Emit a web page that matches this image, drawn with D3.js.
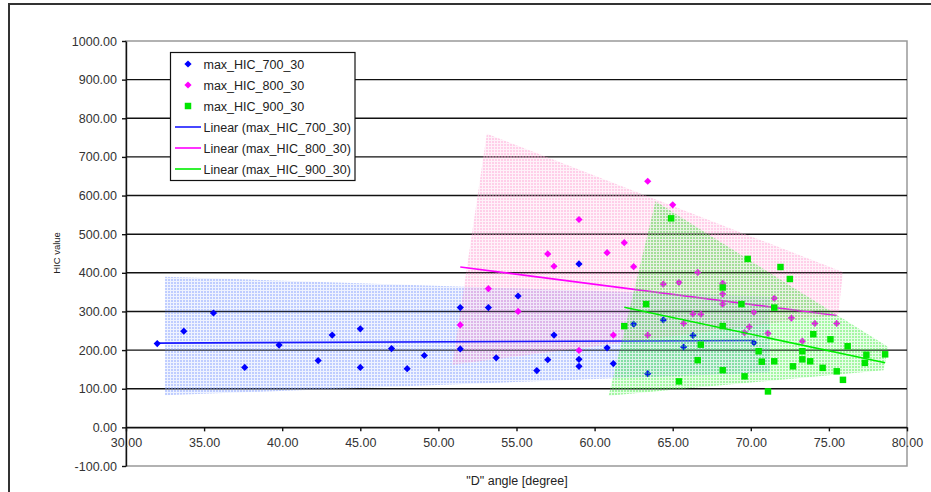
<!DOCTYPE html>
<html>
<head>
<meta charset="utf-8">
<script src="https://cdn.jsdelivr.net/npm/d3@7"></script>
<style>
  body { margin: 0; background: #fff; }
  text { font-family: "Liberation Sans", Arial, sans-serif; }
</style>
</head>
<body>
<script>
// D angle (x) and HIC value (y) per series
const angle700 = [32.0, 33.7, 35.6, 37.6, 39.8, 42.3, 43.2, 45.0, 45.0, 47.0, 48.0, 49.1, 51.4, 51.4, 53.2, 53.7,
  55.1, 56.3, 57.0, 57.4, 59.0, 59.0, 59.0, 60.8, 61.2, 62.5, 63.4, 64.4, 65.7, 66.3, 70.2];
const hic700 = [217, 249, 296, 155, 213, 173, 239, 255, 155, 204, 152, 186, 310, 203, 310, 180,
  340, 147, 175, 239, 423, 176, 158, 206, 165, 267, 139, 278, 208, 238, 219];

const angle800 = [51.4, 53.2, 55.1, 57.0, 57.4, 59.0, 59.0, 60.8, 61.2, 61.9, 62.5, 63.4, 63.4, 64.4, 65.0, 65.4,
  65.7, 66.3, 66.6, 66.8, 68.2, 68.2, 68.2, 69.6, 69.9, 70.2, 71.1, 71.5, 72.6, 73.3, 74.1, 75.5];
const hic800 = [265, 359, 300, 449, 417, 538, 199, 452, 239, 478, 416, 637, 239, 371, 576, 375,
  269, 294, 401, 293, 373, 345, 319, 245, 260, 298, 243, 334, 283, 223, 269, 269];

const angle900 = [61.9, 63.3, 64.9, 65.4, 66.6, 66.8, 68.2, 68.2, 68.2, 69.4, 69.6, 69.8, 70.5, 70.7, 71.1, 71.5,
  71.5, 71.9, 72.5, 72.7, 73.3, 73.3, 73.8, 74.0, 74.6, 75.1, 75.5, 75.9, 76.2, 77.3, 77.4, 78.6];
const hic900 = [262, 319, 541, 119, 174, 214, 362, 262, 148, 319, 132, 436, 197, 170, 93, 310,
  171, 415, 384, 158, 197, 176, 171, 241, 154, 228, 145, 123, 210, 167, 188, 189];

// shaded spread areas, corners as [angle, value]
const band700 = [[32.5, 390], [71.2, 338], [71.2, 142], [32.5, 83]];
const band800 = [[53.1, 760], [75.9, 402], [75.6, 292], [50.9, 162]];
const band900 = [[63.9, 585], [78.8, 208], [78.5, 148], [60.9, 82]];

const xTicks = [30, 35, 40, 45, 50, 55, 60, 65, 70, 75, 80];
const yTicks = [-100, 0, 100, 200, 300, 400, 500, 600, 700, 800, 900, 1000];
const legendNames = ["max_HIC_700_30", "max_HIC_800_30", "max_HIC_900_30",
  "Linear (max_HIC_700_30)", "Linear (max_HIC_800_30)", "Linear (max_HIC_900_30)"];

const w = 931, h = 492;
const svg = d3.select("body").append("svg").attr("width", w).attr("height", h);

const x = d3.scaleLinear().domain([30, 80]).range([126, 907]);
const y = d3.scaleLinear().domain([-100, 1000]).range([466, 41]);

// outer chart frame
svg.append("rect").attr("x", 9).attr("y", 4).attr("width", 960).attr("height", 520)
  .attr("fill", "none").attr("stroke", "#333").attr("stroke-width", 2);

// plot area border
svg.append("rect").attr("x", x(30)).attr("y", y(1000))
  .attr("width", x(80) - x(30)).attr("height", y(-100) - y(1000))
  .attr("fill", "none").attr("stroke", "#999").attr("stroke-width", 1.5);

// gridlines
svg.append("g").selectAll("line")
  .data(yTicks.filter(d => d > -100 && d < 1000))
  .enter().append("line")
  .attr("x1", x(30)).attr("x2", x(80))
  .attr("y1", d => y(d)).attr("y2", d => y(d))
  .attr("stroke", "#111").attr("stroke-width", 1.4);

// hatch patterns
const defs = svg.append("defs");
function hatch(id, color, op) {
  const p = defs.append("pattern").attr("id", id)
    .attr("patternUnits", "userSpaceOnUse").attr("width", 3).attr("height", 3);
  p.append("rect").attr("width", 3).attr("height", 3).attr("fill", color).attr("opacity", op * 0.3);
  p.append("rect").attr("width", 2).attr("height", 2).attr("fill", color).attr("opacity", op);
}
hatch("h700", "#86a0ff", 0.45);
hatch("h800", "#ff9ad2", 0.4);
hatch("h900", "#44ee44", 0.42);

const poly = d3.line().x(d => x(d[0])).y(d => y(d[1]));

function fit(xs, ys) {
  const mx = d3.mean(xs), my = d3.mean(ys);
  let sxy = 0, sxx = 0;
  xs.forEach((v, i) => { sxy += (v - mx) * (ys[i] - my); sxx += (v - mx) * (v - mx); });
  const b = sxy / sxx;
  const x0 = d3.min(xs), x1 = d3.max(xs);
  return [[x0, my + b * (x0 - mx)], [x1, my + b * (x1 - mx)]];
}

function drawBand(band, id) {
  svg.append("path").attr("d", poly(band) + "Z").attr("fill", `url(#${id})`);
}
function drawTrend(xs, ys, color) {
  svg.append("path").attr("d", poly(fit(xs, ys)))
    .attr("stroke", color).attr("stroke-width", 1.6).attr("fill", "none");
}
// diamonds are squares turned 45 degrees
function drawPoints(xs, ys, color, rot, size) {
  svg.append("g").selectAll("path")
    .data(xs.map((v, i) => [v, ys[i]]))
    .enter().append("path")
    .attr("transform", d => `translate(${x(d[0])},${y(d[1])}) rotate(${rot})`)
    .attr("d", d3.symbol().type(d3.symbolSquare).size(size))
    .attr("fill", color);
}

drawBand(band700, "h700");
drawBand(band800, "h800");
drawTrend(angle700, hic700, "#1a1aff");
drawTrend(angle800, hic800, "#ff00ff");
drawPoints(angle700, hic700, "#0000ff", 45, 26);
drawPoints(angle800, hic800, "#ff00ff", 45, 26);
drawBand(band900, "h900");
drawTrend(angle900, hic900, "#00ee00");
drawPoints(angle900, hic900, "#00e600", 0, 42);

// axes
const fmt = d => d.toFixed(2);
const yAxis = svg.append("g").attr("transform", `translate(${x(30)},0)`)
  .call(d3.axisLeft(y).tickValues(yTicks).tickSize(4).tickSizeOuter(0).tickPadding(5).tickFormat(fmt));
const xAxis = svg.append("g").attr("transform", `translate(0,${y(0)})`)
  .call(d3.axisBottom(x).tickValues(xTicks).tickSize(4).tickSizeOuter(0).tickPadding(7).tickFormat(fmt));
[yAxis, xAxis].forEach(g => {
  g.selectAll("path, line").attr("stroke", "#111").attr("stroke-width", 1.4);
  g.selectAll("text").attr("font-size", 12.5).attr("fill", "#333")
    .style("font-family", '"Liberation Sans", Arial, sans-serif');
});

// axis titles
svg.append("text").attr("x", 517).attr("y", 485).attr("text-anchor", "middle")
  .attr("font-size", 12.5).attr("fill", "#222").text('"D" angle [degree]');
svg.append("text").attr("transform", "translate(60,253) rotate(-90)").attr("text-anchor", "middle")
  .attr("font-size", 9.5).attr("fill", "#222").text("HIC value");

// legend
const lg = svg.append("g");
lg.append("rect").attr("x", 170.5).attr("y", 52.5).attr("width", 184.5).attr("height", 128)
  .attr("fill", "#fff").attr("stroke", "#111").attr("stroke-width", 1.2);
const legColors = ["#0000ff", "#ff00ff", "#00e600"];
const rowY = d3.scaleLinear().domain([0, 5]).range([64, 169]);
legendNames.forEach((name, i) => {
  const cy = rowY(i);
  if (i < 3) {
    lg.append("path").attr("transform", `translate(188,${cy}) rotate(${i < 2 ? 45 : 0})`)
      .attr("d", d3.symbol().type(d3.symbolSquare).size(i < 2 ? 26 : 42)).attr("fill", legColors[i]);
  } else {
    lg.append("line").attr("x1", 175).attr("x2", 201).attr("y1", cy).attr("y2", cy)
      .attr("stroke", ["#1a1aff", "#ff00ff", "#00ee00"][i - 3]).attr("stroke-width", 1.6);
  }
  lg.append("text").attr("x", 203.5).attr("y", cy + 4.5).attr("font-size", 12.5)
    .attr("fill", "#222").text(name);
});
</script>
</body>
</html>
